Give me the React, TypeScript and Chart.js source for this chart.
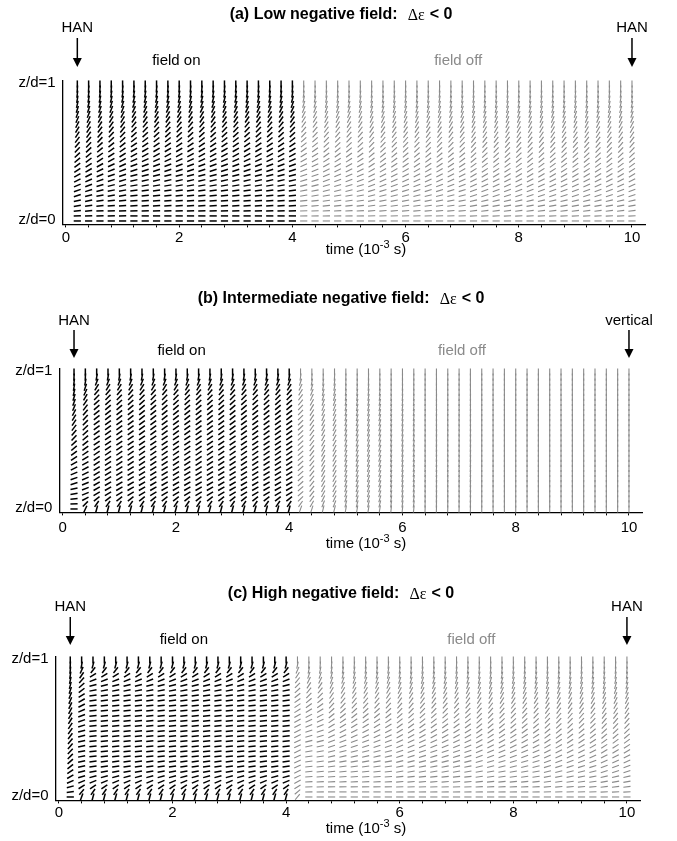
import { useEffect, useRef } from "react";
import { Chart, registerables } from "chart.js";

Chart.register(...registerables);

const SANS = "'Liberation Sans', Arial, Helvetica, sans-serif";
const SERIF = "'Liberation Serif', 'Times New Roman', serif";
const FIELD_ON_COLOR = "#000000";
const FIELD_OFF_COLOR = "#8a8a8a";
const PAGE_WIDTH = 677;

// time of each director column (10^-3 s)
const TIMES = [
  0.2, 0.4, 0.6, 0.8, 1.0, 1.2, 1.4, 1.6, 1.8, 2.0,
  2.2, 2.4, 2.6, 2.8, 3.0, 3.2, 3.4, 3.6, 3.8, 4.0,
  4.2, 4.4, 4.6, 4.8, 5.0, 5.2, 5.4, 5.6, 5.8, 6.0,
  6.2, 6.4, 6.6, 6.8, 7.0, 7.2, 7.4, 7.6, 7.8, 8.0,
  8.2, 8.4, 8.6, 8.8, 9.0, 9.2, 9.4, 9.6, 9.8, 10.0,
];
// the field is applied up to this time, then switched off
const FIELD_OFF_AFTER = 4.0;

// reduced height z/d of each row in a column
const DEPTHS = [
  0, 0.037, 0.074, 0.111, 0.148, 0.185, 0.222, 0.259, 0.296, 0.333,
  0.37, 0.407, 0.444, 0.481, 0.519, 0.556, 0.593, 0.63, 0.667, 0.704,
  0.741, 0.778, 0.815, 0.852, 0.889, 0.926, 0.963, 1,
];

const TIME_TICKS = [0, 0.4, 0.8, 1.2, 1.6, 2, 2.4, 2.8, 3.2, 3.6, 4, 4.4, 4.8, 5.2, 5.6, 6, 6.4, 6.8, 7.2, 7.6, 8, 8.4, 8.8, 9.2, 9.6, 10];
const TIME_LABELS = [0, 2, 4, 6, 8, 10];
const DEPTH_TICKS = [0, 1];
const DEPTH_LABELS = ["z/d=0", "z/d=1"];

// Director tilt from the substrate plane in degrees, listed from z/d=0 up to z/d=1.
const HAN_EQUILIBRIUM = [0, 3, 7, 10, 13, 17, 20, 23, 27, 30, 33, 37, 40, 43, 47, 50, 53, 57, 60, 63, 67, 70, 73, 77, 80, 83, 87, 90];
const RELAX_LATE = [0, 2, 5, 8, 11, 14, 17, 20, 24, 27, 30, 33, 37, 40, 44, 47, 50, 54, 57, 61, 65, 68, 72, 76, 79, 83, 87, 90];
const RELAX_MID = [0, 1, 3, 6, 8, 11, 14, 17, 20, 23, 26, 29, 33, 36, 40, 43, 47, 50, 54, 58, 62, 66, 70, 74, 78, 82, 86, 90];
const RELAX_EARLY = [0, 1, 2, 5, 6, 9, 11, 14, 17, 19, 22, 25, 29, 32, 36, 39, 43, 47, 51, 55, 59, 63, 68, 72, 77, 81, 86, 90];
const LOW_FIELD_ON = [0, 0, 1, 3, 4, 6, 8, 10, 13, 15, 18, 21, 25, 28, 31, 35, 39, 43, 47, 51, 56, 60, 65, 70, 75, 80, 85, 90];

const MID_FIELD_ONSET = [65, 45, 28, 22, 22, 23, 24, 26, 28, 30, 32, 34, 36, 38, 40, 42, 44, 46, 48, 50, 53, 56, 60, 65, 72, 80, 87, 90];
const MID_FIELD_ON = [75, 55, 38, 30, 30, 31, 31, 32, 32, 33, 33, 34, 34, 35, 35, 36, 36, 37, 38, 39, 40, 42, 45, 50, 58, 68, 80, 90];
const MID_OFF_1 = [70, 55, 45, 42, 42, 42, 42, 42, 42, 42, 42, 43, 43, 43, 43, 44, 44, 45, 46, 47, 49, 51, 54, 58, 64, 72, 82, 90];
const MID_OFF_2 = [72, 60, 54, 52, 52, 52, 52, 52, 52, 52, 52, 53, 53, 53, 54, 54, 55, 56, 57, 58, 60, 62, 65, 68, 73, 79, 85, 90];
const MID_OFF_3 = [76, 68, 64, 62, 62, 62, 62, 62, 62, 62, 62, 62, 63, 63, 63, 64, 64, 65, 66, 67, 68, 70, 72, 75, 78, 82, 86, 90];
const MID_OFF_4 = [80, 75, 73, 72, 72, 72, 72, 72, 72, 72, 72, 72, 72, 73, 73, 73, 74, 74, 75, 76, 77, 78, 80, 82, 84, 86, 88, 90];
const MID_OFF_5 = [84, 81, 80, 80, 80, 80, 80, 80, 80, 80, 80, 80, 80, 80, 80, 81, 81, 81, 82, 82, 83, 84, 85, 86, 87, 88, 89, 90];
const MID_OFF_6 = [88, 87, 86, 86, 86, 86, 86, 86, 86, 86, 86, 86, 86, 86, 86, 86, 87, 87, 87, 87, 88, 88, 88, 89, 89, 89, 90, 90];
const VERTICAL = [90, 90, 90, 90, 90, 90, 90, 90, 90, 90, 90, 90, 90, 90, 90, 90, 90, 90, 90, 90, 90, 90, 90, 90, 90, 90, 90, 90];

const HIGH_FIELD_START = [0, 8, 16, 24, 30, 35, 39, 42, 45, 47, 49, 51, 53, 55, 57, 59, 61, 63, 65, 67, 69, 72, 75, 78, 81, 84, 87, 90];
const HIGH_FIELD_ONSET = [70, 50, 32, 22, 16, 13, 12, 11, 11, 11, 12, 13, 14, 15, 17, 19, 21, 24, 27, 30, 33, 37, 42, 48, 56, 66, 80, 90];
const HIGH_FIELD_ON = [75, 55, 35, 22, 15, 10, 8, 7, 6, 6, 6, 6, 6, 6, 6, 6, 6, 6, 7, 8, 9, 11, 15, 22, 33, 52, 75, 90];
const HIGH_OFF_1 = [50, 40, 32, 28, 26, 25, 25, 25, 25, 25, 25, 26, 26, 27, 28, 29, 30, 32, 34, 36, 39, 42, 46, 51, 57, 66, 78, 90];
const HIGH_OFF_2 = [0, 1, 2, 3, 4, 5, 6, 7, 8, 10, 12, 14, 16, 18, 21, 24, 27, 31, 35, 40, 45, 51, 57, 64, 71, 78, 85, 90];

// profile used by each column, one entry per time in TIMES
const LOW_PROFILES = [HAN_EQUILIBRIUM, RELAX_LATE, RELAX_MID, RELAX_EARLY, LOW_FIELD_ON];
const LOW_COLUMNS = [
  0, 1, 2, 3, 3, 4, 4, 4, 4, 4, 4, 4, 4, 4, 4, 4, 4, 4, 4, 4,
  3, 3, 2, 2, 2, 2, 1, 1, 1, 1, 1, 1, 1, 1, 1, 0, 0, 0, 0, 0,
  0, 0, 0, 0, 0, 0, 0, 0, 0, 0,
];

const MID_PROFILES = [HAN_EQUILIBRIUM, MID_FIELD_ONSET, MID_FIELD_ON, MID_OFF_1, MID_OFF_2, MID_OFF_3, MID_OFF_4, MID_OFF_5, MID_OFF_6, VERTICAL];
const MID_COLUMNS = [
  0, 1, 2, 2, 2, 2, 2, 2, 2, 2, 2, 2, 2, 2, 2, 2, 2, 2, 2, 2,
  3, 4, 5, 5, 6, 6, 6, 6, 7, 7, 7, 8, 8, 8, 8, 8, 9, 9, 9, 9,
  9, 9, 9, 9, 9, 9, 9, 9, 9, 9,
];

const HIGH_PROFILES = [HIGH_FIELD_START, HIGH_FIELD_ONSET, HIGH_FIELD_ON, HIGH_OFF_1, HIGH_OFF_2, LOW_FIELD_ON, RELAX_EARLY, RELAX_MID, RELAX_LATE, HAN_EQUILIBRIUM];
const HIGH_COLUMNS = [
  0, 1, 2, 2, 2, 2, 2, 2, 2, 2, 2, 2, 2, 2, 2, 2, 2, 2, 2, 2,
  3, 4, 4, 5, 5, 5, 5, 5, 5, 6, 6, 6, 6, 6, 6, 6, 7, 7, 7, 7,
  7, 7, 8, 8, 8, 8, 8, 9, 9, 9,
];

type Panel = {
  title: string;
  endLabel: string;
  profiles: number[][];
  columns: number[];
  top: number;
  height: number;
  left: number;
  right: number;
  titleY: number;
  sideLabelY: number;
  arrowTop: number;
  arrowTip: number;
  fieldLabelY: number;
  onLabelT: number;
  offLabelT: number;
  tickPad: number;
  axisTitleY: number;
};

const PANEL_A: Panel = {
  title: "(a) Low negative field:", endLabel: "HAN",
  profiles: LOW_PROFILES, columns: LOW_COLUMNS,
  top: 0, height: 288, left: 62.6, right: 645,
  titleY: 15, sideLabelY: 28, arrowTop: 38, arrowTip: 67, fieldLabelY: 61,
  onLabelT: 1.95, offLabelT: 6.93, tickPad: 1, axisTitleY: 249,
};
const PANEL_B: Panel = {
  title: "(b) Intermediate negative field:", endLabel: "vertical",
  profiles: MID_PROFILES, columns: MID_COLUMNS,
  top: 288, height: 288, left: 59.3, right: 642,
  titleY: 11, sideLabelY: 33, arrowTop: 42, arrowTip: 70, fieldLabelY: 63,
  onLabelT: 2.1, offLabelT: 7.05, tickPad: 3, axisTitleY: 255,
};
const PANEL_C: Panel = {
  title: "(c) High negative field:", endLabel: "HAN",
  profiles: HIGH_PROFILES, columns: HIGH_COLUMNS,
  top: 576, height: 265, left: 55.5, right: 640,
  titleY: 18, sideLabelY: 31, arrowTop: 41, arrowTip: 69, fieldLabelY: 64,
  onLabelT: 2.2, offLabelT: 7.26, tickPad: 0, axisTitleY: 252,
};

const PLOT_TOP = 80.6;
const PLOT_BOTTOM = 224.4;
const X_AXIS_HEIGHT = 30;

function columnPoints(panel: Panel, fieldOn: boolean) {
  const points: { x: number; y: number; tilt: number }[] = [];
  TIMES.forEach((t, c) => {
    if ((t <= FIELD_OFF_AFTER) !== fieldOn) return;
    const profile = panel.profiles[panel.columns[c]];
    DEPTHS.forEach((z, i) => points.push({ x: t, y: z, tilt: profile[i] }));
  });
  return points;
}

function drawArrow(ctx: CanvasRenderingContext2D, x: number, y0: number, y1: number) {
  ctx.beginPath();
  ctx.lineWidth = 1.5;
  ctx.moveTo(x, y0);
  ctx.lineTo(x, y1 - 6);
  ctx.stroke();
  ctx.beginPath();
  ctx.moveTo(x - 4.5, y1 - 9);
  ctx.lineTo(x + 4.5, y1 - 9);
  ctx.lineTo(x, y1);
  ctx.closePath();
  ctx.fill();
}

function panelDecor(panel: Panel) {
  return {
    id: "panelDecor",
    afterDraw(chart: Chart) {
      const ctx = chart.ctx;
      const xs = chart.scales.x;
      ctx.save();
      ctx.fillStyle = "#000";
      ctx.strokeStyle = "#000";
      ctx.textBaseline = "middle";
      ctx.textAlign = "left";

      // heading: bold text followed by the dielectric anisotropy condition
      const bold = `bold 16px ${SANS}`;
      const serif = `16px ${SERIF}`;
      ctx.font = bold;
      const w1 = ctx.measureText(panel.title).width;
      const w3 = ctx.measureText("< 0").width;
      ctx.font = serif;
      const w2 = ctx.measureText("Δε").width;
      const gap1 = 10;
      const gap2 = 5;
      let tx = 341 - (w1 + gap1 + w2 + gap2 + w3) / 2;
      ctx.font = bold;
      ctx.fillText(panel.title, tx, panel.titleY);
      tx += w1 + gap1;
      ctx.font = serif;
      ctx.fillText("Δε", tx, panel.titleY + 1);
      tx += w2 + gap2;
      ctx.font = bold;
      ctx.fillText("< 0", tx, panel.titleY);

      // start and end state markers
      const x0 = xs.getPixelForValue(TIMES[0]);
      const x1 = xs.getPixelForValue(TIMES[TIMES.length - 1]);
      ctx.font = `15px ${SANS}`;
      ctx.textAlign = "center";
      ctx.fillText("HAN", x0, panel.sideLabelY);
      ctx.fillText(panel.endLabel, x1, panel.sideLabelY);
      drawArrow(ctx, x0, panel.arrowTop, panel.arrowTip);
      drawArrow(ctx, x1, panel.arrowTop, panel.arrowTip);

      ctx.fillText("field on", xs.getPixelForValue(panel.onLabelT), panel.fieldLabelY);
      ctx.fillStyle = FIELD_OFF_COLOR;
      ctx.fillText("field off", xs.getPixelForValue(panel.offLabelT), panel.fieldLabelY);

      // x-axis title with superscript exponent
      ctx.fillStyle = "#000";
      ctx.textAlign = "left";
      ctx.textBaseline = "alphabetic";
      const main = `15px ${SANS}`;
      const sup = `11px ${SANS}`;
      ctx.font = main;
      const a = ctx.measureText("time (10").width;
      const c = ctx.measureText(" s)").width;
      ctx.font = sup;
      const b = ctx.measureText("-3").width;
      let ax = 366 - (a + b + c) / 2;
      const base = panel.axisTitleY + 5;
      ctx.font = main;
      ctx.fillText("time (10", ax, base);
      ax += a;
      ctx.font = sup;
      ctx.fillText("-3", ax, base - 6);
      ax += b;
      ctx.font = main;
      ctx.fillText(" s)", ax, base);
      ctx.restore();
    },
  };
}

function DirectorPanel({ panel }: { panel: Panel }) {
  const ref = useRef<HTMLCanvasElement | null>(null);

  useEffect(() => {
    if (!ref.current) return;
    const tiltRotation = (ctx: any) => -(ctx.raw && typeof ctx.raw.tilt === "number" ? ctx.raw.tilt : 0);
    const chart = new Chart(ref.current, {
      type: "scatter",
      data: {
        datasets: [
          {
            label: "field on",
            data: columnPoints(panel, true),
            pointStyle: "line",
            pointRadius: 3.6,
            pointHoverRadius: 3.6,
            pointBorderWidth: 1.5,
            pointHoverBorderWidth: 1.5,
            pointBorderColor: FIELD_ON_COLOR,
            pointBackgroundColor: FIELD_ON_COLOR,
            pointRotation: tiltRotation,
            clip: false,
          } as any,
          {
            label: "field off",
            data: columnPoints(panel, false),
            pointStyle: "line",
            pointRadius: 3.6,
            pointHoverRadius: 3.6,
            pointBorderWidth: 1.1,
            pointHoverBorderWidth: 1.1,
            pointBorderColor: FIELD_OFF_COLOR,
            pointBackgroundColor: FIELD_OFF_COLOR,
            pointRotation: tiltRotation,
            clip: false,
          } as any,
        ],
      },
      options: {
        animation: false,
        responsive: false,
        devicePixelRatio: 1,
        events: [],
        layout: {
          padding: {
            top: PLOT_TOP,
            bottom: panel.height - PLOT_BOTTOM - X_AXIS_HEIGHT,
            left: 0,
            right: PAGE_WIDTH - panel.right,
          },
        },
        plugins: {
          legend: { display: false },
          tooltip: { enabled: false },
          title: { display: false },
        },
        scales: {
          x: {
            type: "linear",
            min: -0.06,
            max: 10.23,
            afterFit: (scale: any) => {
              scale.height = X_AXIS_HEIGHT;
            },
            afterBuildTicks: (scale: any) => {
              scale.ticks = TIME_TICKS.map((v) => ({ value: v }));
            },
            ticks: {
              autoSkip: false,
              maxRotation: 0,
              minRotation: 0,
              padding: panel.tickPad,
              color: "#000",
              font: { family: SANS, size: 15 },
              callback: (value: any) => (TIME_LABELS.includes(Number(value)) ? String(value) : ""),
            },
            grid: {
              display: true,
              drawOnChartArea: false,
              drawTicks: true,
              tickLength: 3,
              color: "#000",
              lineWidth: 1,
            },
            border: { display: true, color: "#000", width: 1.3 },
          },
          y: {
            type: "linear",
            min: -0.025,
            max: 1.025,
            afterFit: (scale: any) => {
              scale.width = panel.left;
            },
            afterBuildTicks: (scale: any) => {
              scale.ticks = DEPTH_TICKS.map((v) => ({ value: v }));
            },
            ticks: {
              autoSkip: false,
              padding: 7,
              labelOffset: -1.5,
              color: "#000",
              font: { family: SANS, size: 15 },
              callback: (value: any) => DEPTH_LABELS[DEPTH_TICKS.indexOf(Number(value))],
            },
            grid: { display: false, drawTicks: false },
            border: { display: true, color: "#000", width: 1.3 },
          },
        },
      },
      plugins: [panelDecor(panel)],
    });
    return () => chart.destroy();
  }, [panel]);

  return (
    <canvas
      ref={ref}
      width={PAGE_WIDTH}
      height={panel.height}
      style={{ position: "absolute", left: 0, top: panel.top, width: PAGE_WIDTH, height: panel.height }}
    />
  );
}

export default function App() {
  return (
    <div
      style={{
        position: "absolute",
        left: 0,
        top: 0,
        width: PAGE_WIDTH,
        height: 841,
        background: "#ffffff",
        overflow: "hidden",
      }}
    >
      <DirectorPanel panel={PANEL_A} />
      <DirectorPanel panel={PANEL_B} />
      <DirectorPanel panel={PANEL_C} />
    </div>
  );
}
